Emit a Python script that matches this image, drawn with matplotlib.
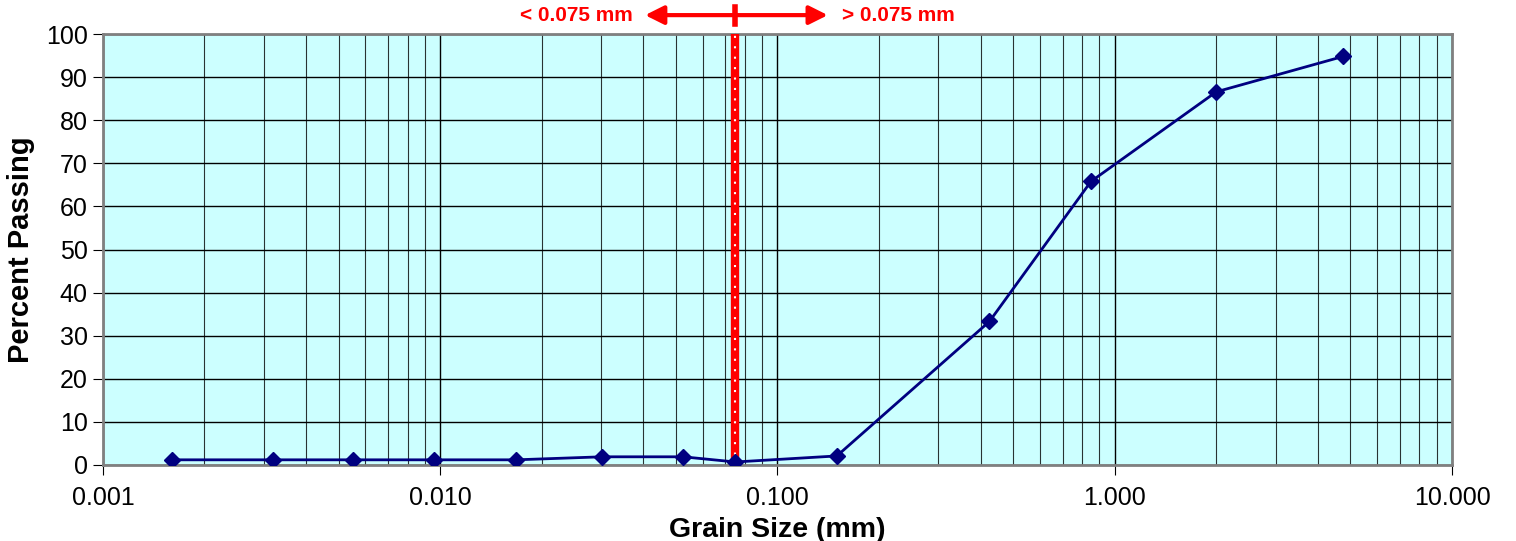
import numpy as np
import matplotlib.pyplot as plt
from matplotlib.ticker import FixedLocator, FixedFormatter, LogLocator, NullFormatter

plt.rcParams['font.family'] = ['Liberation Sans', 'DejaVu Sans']

# sieve / hydrometer results
grain_size = [0.0016, 0.0032, 0.0055, 0.0096, 0.0168, 0.0302, 0.0525, 0.075, 0.150, 0.425, 0.85, 2.0, 4.75]
percent_passing = [1.2, 1.2, 1.2, 1.2, 1.2, 1.9, 1.9, 0.7, 2.1, 33.3, 65.8, 86.6, 94.8]

xticks = [0.001, 0.01, 0.1, 1.0, 10.0]
xtick_labels = ["0.001", "0.010", "0.100", "1.000", "10.000"]
split = 0.075

fig = plt.figure(figsize=(15.16, 5.41), dpi=100)
ax = fig.add_axes([0.0679, 0.1405, 0.8899, 0.7965])
ax.set_facecolor('#ccffff')

ax.set_xscale('log')
ax.set_xlim(0.001, 10)
ax.set_ylim(0, 100)

ax.xaxis.set_major_locator(FixedLocator(xticks))
ax.xaxis.set_major_formatter(FixedFormatter(xtick_labels))
ax.xaxis.set_minor_locator(LogLocator(base=10, subs=np.arange(2, 10)))
ax.xaxis.set_minor_formatter(NullFormatter())
ax.set_yticks(np.arange(0, 101, 10))

ax.grid(which='major', axis='both', color='black', lw=1.0)
ax.grid(which='minor', axis='x', color='black', lw=0.8, alpha=0.8)
ax.set_axisbelow(True)

for s in ax.spines.values():
    s.set_color('#808080')
    s.set_linewidth(2)

ax.tick_params(axis='both', which='major', labelsize=18, length=7, direction='out', color='black')
ax.tick_params(axis='x', which='minor', length=0)
ax.tick_params(axis='x', pad=8)
ax.tick_params(axis='y', pad=4)

# 0.075 mm divider
ax.axvline(split, color='red', lw=6, zorder=3)
ax.axvline(split, color='white', lw=1.5, ls=(0, (1, 4)), zorder=4)

ax.plot(grain_size, percent_passing, color='#000080', lw=2, marker='D', markersize=8, zorder=5)

ax.set_xlabel('Grain Size (mm)', fontsize=20.5, fontweight='bold', labelpad=5)
ax.set_ylabel('Percent Passing', fontsize=21, fontweight='bold', labelpad=8)

# arrow above the plot
tr = ax.get_xaxis_transform()
for end in (0.0405, 0.141):
    ax.annotate('', xy=(end, 1.044), xytext=(split, 1.044), xycoords=tr, textcoords=tr,
                arrowprops=dict(arrowstyle='-|>', color='red', lw=3, mutation_scale=28,
                                shrinkA=0, shrinkB=0),
                annotation_clip=False)
ax.plot([split, split], [1.024, 1.064], transform=tr, color='red', lw=4, clip_on=False)
ax.text(0.0372, 1.044, '< 0.075 mm', transform=tr, color='red', fontsize=15, fontweight='bold',
        ha='right', va='center')
ax.text(0.155, 1.044, '> 0.075 mm', transform=tr, color='red', fontsize=15, fontweight='bold',
        ha='left', va='center')

fig.savefig('out.png', dpi=100)
